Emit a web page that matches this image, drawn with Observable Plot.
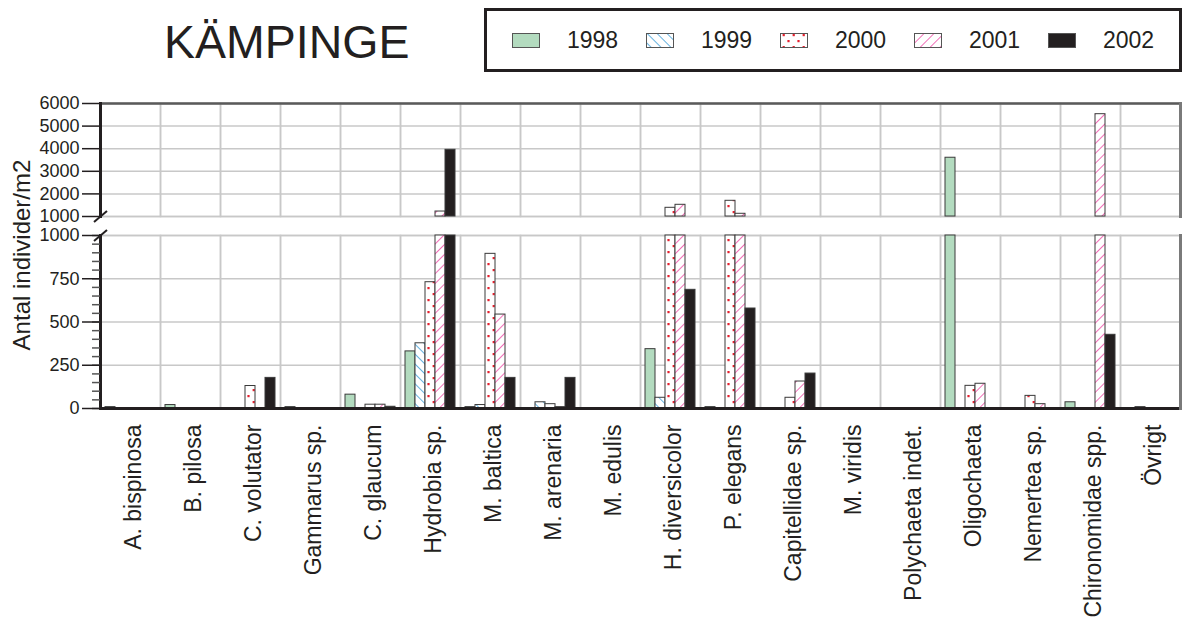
<!DOCTYPE html>
<html>
<head>
<meta charset="utf-8">
<script src="https://cdn.jsdelivr.net/npm/d3@7"></script>
<script src="https://cdn.jsdelivr.net/npm/@observablehq/plot@0.6"></script>
<style>
  body { margin: 0; background: #fff; font-family: "Liberation Sans", Arial, Helvetica, sans-serif; color: #231f20; }
  #root { position: relative; width: 1184px; height: 626px; overflow: hidden; }
  #title { position: absolute; left: 164px; top: 19px; font-size: 46.5px; line-height: 46.5px; white-space: nowrap; }
  #legendbox { position: absolute; left: 484px; top: 8px; width: 698px; height: 64px; box-sizing: border-box; border: 3px solid #231f20; }
  .lgtext { position: absolute; font-size: 23px; line-height: 23px; white-space: nowrap; }
  .lgsw { position: absolute; }
  #ylab { position: absolute; left: -128px; top: 243px; width: 300px; height: 24px; font-size: 24px; line-height: 24px; text-align: center; transform: rotate(-90deg); white-space: nowrap; }
  #upper { position: absolute; left: 0; top: 90px; }
  #lower { position: absolute; left: 0; top: 220px; }
</style>
</head>
<body>
<svg width="0" height="0" style="position:absolute">
  <defs>
    <pattern id="p1999" patternUnits="userSpaceOnUse" width="7" height="7" patternTransform="rotate(-45)">
      <rect width="7" height="7" fill="#fff"/>
      <line x1="0" y1="0" x2="0" y2="7" stroke="#3d9fd8" stroke-width="1.6"/>
    </pattern>
    <pattern id="p2000" patternUnits="userSpaceOnUse" width="10" height="12">
      <rect width="10" height="12" fill="#fff"/>
      <rect x="2.6" y="1" width="2.2" height="2.2" fill="#e5202e"/>
      <rect x="7.4" y="7" width="2.2" height="2.2" fill="#e5202e"/>
    </pattern>
    <pattern id="p2001" patternUnits="userSpaceOnUse" width="7" height="7" patternTransform="rotate(45)">
      <rect width="7" height="7" fill="#fff"/>
      <line x1="0" y1="0" x2="0" y2="7" stroke="#ee4aa6" stroke-width="1.6"/>
    </pattern>
  </defs>
</svg>
<div id="root">
  <div id="title">KÄMPINGE</div>
  <div id="legendbox"></div>
  <div id="ylab">Antal individer/m2</div>
  <div id="upper"></div>
  <div id="lower"></div>
</div>
<script>
// ---- data ----
const categories = ["A. bispinosa", "B. pilosa", "C. volutator", "Gammarus sp.", "C. glaucum", "Hydrobia sp.",
  "M. baltica", "M. arenaria", "M. edulis", "H. diversicolor", "P. elegans", "Capitellidae sp.",
  "M. viridis", "Polychaeta indet.", "Oligochaeta", "Nemertea sp.", "Chironomidae spp.", "Övrigt"];
const years = ["1998", "1999", "2000", "2001", "2002"];
const v1998 = [8, 20, 0, 8, 80, 330, 8, 0, 0, 343, 8, 0, 0, 0, 3600, 0, 36, 0];
const v1999 = [0, 0, 0, 0, 0, 377, 20, 36, 0, 62, 0, 0, 0, 0, 0, 0, 0, 8];
const v2000 = [0, 0, 130, 0, 22, 730, 894, 25, 0, 1385, 1695, 62, 0, 0, 131, 73, 0, 0];
const v2001 = [0, 0, 0, 0, 22, 1220, 543, 8, 0, 1518, 1120, 156, 0, 0, 143, 25, 5527, 0];
const v2002 = [0, 0, 177, 0, 10, 3950, 177, 177, 0, 686, 578, 202, 0, 0, 0, 0, 426, 0];
const upperTicks = [1000, 2000, 3000, 4000, 5000, 6000];
const lowerTicks = [0, 250, 500, 750, 1000];
const lowerMinorTicks = d3.range(0, 1001, 50);
const yearFills = ["#b3dbbf", "url(#p1999)", "url(#p2000)", "url(#p2001)", "#231f20"];

const series = [v1998, v1999, v2000, v2001, v2002];
const rows = categories.flatMap((cat, i) => years.map((year, j) => ({cat, year, value: series[j][i]})))
  .filter(d => d.value > 0);
const upperGrid = categories.flatMap(cat => upperTicks.map(t => ({cat, t})));
const lowerGrid = categories.flatMap(cat => lowerTicks.map(t => ({cat, t})));

// ---- legend ----
const lb = document.getElementById("root");
years.forEach((y, i) => {
  const sw = document.createElementNS("http://www.w3.org/2000/svg", "svg");
  sw.setAttribute("class", "lgsw");
  sw.setAttribute("width", 28); sw.setAttribute("height", 15);
  sw.style.left = (512 + 134 * i) + "px"; sw.style.top = "33px";
  const r = document.createElementNS("http://www.w3.org/2000/svg", "rect");
  r.setAttribute("x", 0.5); r.setAttribute("y", 0.5); r.setAttribute("width", 27); r.setAttribute("height", 14);
  r.setAttribute("fill", yearFills[i]); r.setAttribute("stroke", "#555"); r.setAttribute("stroke-width", 1);
  sw.appendChild(r);
  lb.appendChild(sw);
  const t = document.createElement("div");
  t.className = "lgtext"; t.textContent = y;
  t.style.left = (567 + 134 * i) + "px"; t.style.top = "29px";
  lb.appendChild(t);
});

// ---- charts ----
const font = {fontFamily: "'Liberation Sans', Arial, Helvetica, sans-serif", fontSize: "18px", color: "#231f20", background: "transparent", overflow: "visible"};
const breakSymbol = {draw(ctx) { ctx.moveTo(-6.5, 5.5); ctx.lineTo(6.5, -5.5); }};
const common = {
  width: 1184, marginLeft: 100, marginRight: 4,
  fx: {domain: categories, padding: 0, axis: null, label: null},
  x: {domain: years, paddingInner: 0, paddingOuter: 0.5, axis: null, round: false},
  color: {domain: years, range: yearFills, type: "ordinal"},
  style: font
};
const grid = "#c8c8c8";

const upper = Plot.plot({
  ...common,
  height: 128, marginTop: 13, marginBottom: 2,
  y: {domain: [1000, 6000], axis: null, label: null},
  marks: [
    Plot.ruleY(upperGrid, {fx: "cat", y: "t", stroke: grid, strokeWidth: 1.5}),
    Plot.frame({stroke: grid, strokeWidth: 1.5}),
    Plot.barY(rows.filter(d => d.value > 1000), {fx: "cat", x: "year", y1: 1000, y2: "value", fill: "year", stroke: "#3a3a3a", strokeWidth: 1}),
    Plot.ruleY([6000], {stroke: "#5a5a5a", strokeWidth: 2.5}),
    Plot.frame({anchor: "right", facetAnchor: "right", stroke: "#7a7a7a", strokeWidth: 3}),
    Plot.frame({anchor: "left", facetAnchor: "left", stroke: "#231f20", strokeWidth: 3}),
    Plot.axisY(upperTicks, {anchor: "left", tickSize: 18, tickPadding: 3, tickFormat: "d", label: null, strokeWidth: 1.5, fontSize: 18}),
    Plot.dot([{cat: categories[0], v: 1000}], {fx: "cat", y: "v", frameAnchor: "left", symbol: breakSymbol, fill: "none", stroke: "#231f20", strokeWidth: 2})
  ]
});
document.getElementById("upper").appendChild(upper);

const lower = Plot.plot({
  ...common,
  height: 406, marginTop: 15, marginBottom: 218,
  y: {domain: [0, 1000], axis: null, label: null},
  marks: [
    Plot.ruleY(lowerGrid, {fx: "cat", y: "t", stroke: grid, strokeWidth: 1.5}),
    Plot.frame({stroke: grid, strokeWidth: 1.5}),
    Plot.barY(rows, {fx: "cat", x: "year", y1: 0, y2: d => Math.min(d.value, 1000), fill: "year", stroke: "#3a3a3a", strokeWidth: 1}),
    Plot.ruleY([0], {stroke: "#231f20", strokeWidth: 3}),
    Plot.frame({anchor: "right", facetAnchor: "right", stroke: "#7a7a7a", strokeWidth: 3}),
    Plot.frame({anchor: "left", facetAnchor: "left", stroke: "#231f20", strokeWidth: 3}),
    Plot.axisY(lowerMinorTicks, {anchor: "left", tickSize: 8, tickFormat: () => "", label: null, stroke: "#555", strokeWidth: 1.5}),
    Plot.axisY(lowerTicks, {anchor: "left", tickSize: 18, tickPadding: 3, tickFormat: "d", label: null, strokeWidth: 1.5, fontSize: 18}),
    Plot.axisFx({anchor: "bottom", tickRotate: -90, tickSize: 0, tickPadding: 16, fontSize: 23, label: null, dx: 3}),
    Plot.dot([{cat: categories[0], v: 1000}], {fx: "cat", y: "v", frameAnchor: "left", symbol: breakSymbol, fill: "none", stroke: "#231f20", strokeWidth: 2})
  ]
});
document.getElementById("lower").appendChild(lower);
</script>
</body>
</html>
